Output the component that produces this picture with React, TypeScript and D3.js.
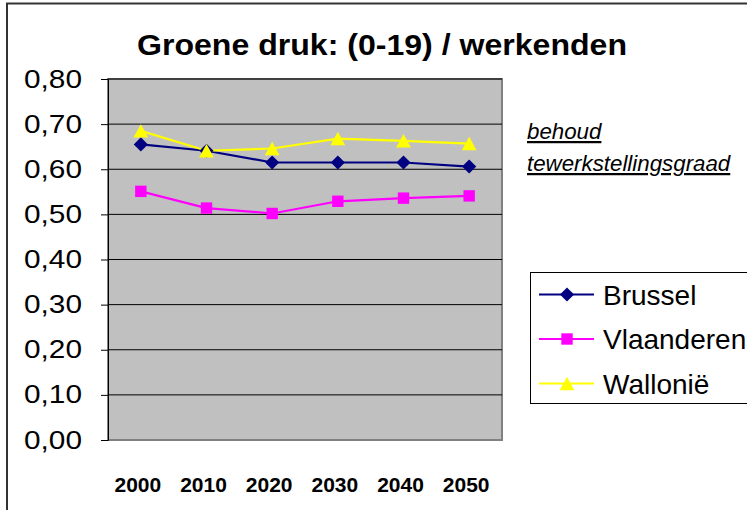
import * as d3 from "d3";
import { useEffect, useRef } from "react";

const years = ["2000", "2010", "2020", "2030", "2040", "2050"];
const brussel = [0.655, 0.641, 0.615, 0.615, 0.615, 0.606];
const vlaanderen = [0.551, 0.514, 0.502, 0.529, 0.536, 0.541];
const wallonie = [0.685, 0.641, 0.646, 0.668, 0.663, 0.657];
const yTicks = [0, 0.1, 0.2, 0.3, 0.4, 0.5, 0.6, 0.7, 0.8];

// Excel style markers: square rotated 45 degrees, square, wide triangle
const diamond = {
  draw(ctx: any, size: number) {
    const r = Math.sqrt(size) / 2;
    ctx.moveTo(0, -r);
    ctx.lineTo(r, 0);
    ctx.lineTo(0, r);
    ctx.lineTo(-r, 0);
    ctx.closePath();
  },
};
const square = {
  draw(ctx: any, size: number) {
    const r = Math.sqrt(size) / 2;
    ctx.rect(-r, -r, 2 * r, 2 * r);
  },
};
const triangle = {
  draw(ctx: any, size: number) {
    const r = Math.sqrt(size) / 2;
    ctx.moveTo(0, -r);
    ctx.lineTo(r * 1.1, r);
    ctx.lineTo(-r * 1.1, r);
    ctx.closePath();
  },
};

const series = [
  { name: "Brussel", values: brussel, color: "#000080", symbol: diamond, size: 200 },
  { name: "Vlaanderen", values: vlaanderen, color: "#FF00FF", symbol: square, size: 130 },
  { name: "Wallonië", values: wallonie, color: "#FFFF00", symbol: triangle, size: 180 },
];

const W = 747;
const H = 510;
const plot = { left: 108, top: 79, right: 502, bottom: 440 };
const font = "'Liberation Sans', Arial, sans-serif";

export default function App() {
  const ref = useRef<SVGSVGElement>(null);

  useEffect(() => {
    const svg = d3.select(ref.current);
    svg.selectAll("*").remove();

    // chart area border
    svg
      .append("rect")
      .attr("x", 7)
      .attr("y", 3.5)
      .attr("width", 800)
      .attr("height", 600)
      .attr("fill", "#fff")
      .attr("stroke", "#333")
      .attr("stroke-width", 2);

    const x = d3.scaleBand().domain(years).range([plot.left, plot.right]);
    const y = d3.scaleLinear().domain([0, 0.8]).range([plot.bottom, plot.top]);

    svg
      .append("rect")
      .attr("x", plot.left)
      .attr("y", plot.top)
      .attr("width", plot.right - plot.left)
      .attr("height", plot.bottom - plot.top)
      .attr("fill", "#C0C0C0")
      .attr("stroke", "#808080")
      .attr("stroke-width", 2);

    // gridlines
    svg
      .append("g")
      .selectAll("line")
      .data(yTicks.slice(1))
      .join("line")
      .attr("x1", plot.left)
      .attr("x2", plot.right)
      .attr("y1", (d) => y(d))
      .attr("y2", (d) => y(d))
      .attr("stroke", "#000")
      .attr("stroke-width", 1);

    // y axis
    const yAxis = svg
      .append("g")
      .attr("transform", `translate(${plot.left},0)`)
      .call(
        d3
          .axisLeft(y)
          .tickValues(yTicks)
          .tickSize(7)
          .tickPadding(19)
          .tickFormat((d) => d3.format(".2f")(d as number).replace(".", ","))
      );
    yAxis.select(".domain").attr("stroke", "#000").attr("stroke-width", 1);
    yAxis.selectAll(".tick line").attr("stroke", "#000");
    yAxis
      .selectAll("text")
      .attr("font-family", font)
      .attr("font-size", 25)
      .attr("textLength", 58)
      .attr("lengthAdjust", "spacingAndGlyphs")
      .attr("fill", "#000");

    // x axis labels
    const xAxis = svg
      .append("g")
      .attr("transform", `translate(0,${plot.bottom})`)
      .call(d3.axisBottom(x).tickSize(0).tickPadding(37));
    xAxis.select(".domain").remove();
    xAxis
      .selectAll("text")
      .attr("font-family", font)
      .attr("font-size", 21)
      .attr("font-weight", "bold")
      .attr("dx", -3)
      .attr("fill", "#000");

    const line = d3
      .line<number>()
      .x((_, i) => (x(years[i]) as number) + x.bandwidth() / 2)
      .y((d) => y(d));

    series.forEach((s) => {
      svg
        .append("path")
        .datum(s.values)
        .attr("d", line)
        .attr("fill", "none")
        .attr("stroke", s.color)
        .attr("stroke-width", 2.2);
    });
    series.forEach((s) => {
      svg
        .append("g")
        .selectAll("path")
        .data(s.values)
        .join("path")
        .attr("d", d3.symbol(s.symbol as any, s.size))
        .attr(
          "transform",
          (d, i) => `translate(${(x(years[i]) as number) + x.bandwidth() / 2},${y(d)})`
        )
        .attr("fill", s.color);
    });

    // title
    svg
      .append("text")
      .attr("x", 137)
      .attr("y", 55)
      .attr("font-family", font)
      .attr("font-size", 29)
      .attr("font-weight", "bold")
      .attr("textLength", 490)
      .attr("lengthAdjust", "spacingAndGlyphs")
      .text("Groene druk: (0-19) / werkenden");

    // note
    ["behoud", "tewerkstellingsgraad"].forEach((t, i) => {
      svg
        .append("text")
        .attr("x", 527)
        .attr("y", 139 + i * 32)
        .attr("font-family", font)
        .attr("font-size", 22.3)
        .attr("font-style", "italic")
        .attr("text-decoration", "underline")
        .text(t);
    });

    // legend
    const lg = svg.append("g");
    lg.append("rect")
      .attr("x", 530.5)
      .attr("y", 272.5)
      .attr("width", 300)
      .attr("height", 131)
      .attr("fill", "#fff")
      .attr("stroke", "#000")
      .attr("stroke-width", 1);
    series.forEach((s, i) => {
      const cy = 294.5 + i * 44.5;
      lg.append("line")
        .attr("x1", 539)
        .attr("x2", 594)
        .attr("y1", cy)
        .attr("y2", cy)
        .attr("stroke", s.color)
        .attr("stroke-width", 2.2);
      lg.append("path")
        .attr("d", d3.symbol(s.symbol as any, s.size))
        .attr("transform", `translate(567,${cy})`)
        .attr("fill", s.color);
      lg.append("text")
        .attr("x", 603)
        .attr("y", cy + 10)
        .attr("font-family", font)
        .attr("font-size", 28)
        .text(s.name);
    });
  }, []);

  return (
    <svg
      ref={ref}
      width={W}
      height={H}
      style={{ position: "absolute", left: 0, top: 0, background: "#fff" }}
    />
  );
}
